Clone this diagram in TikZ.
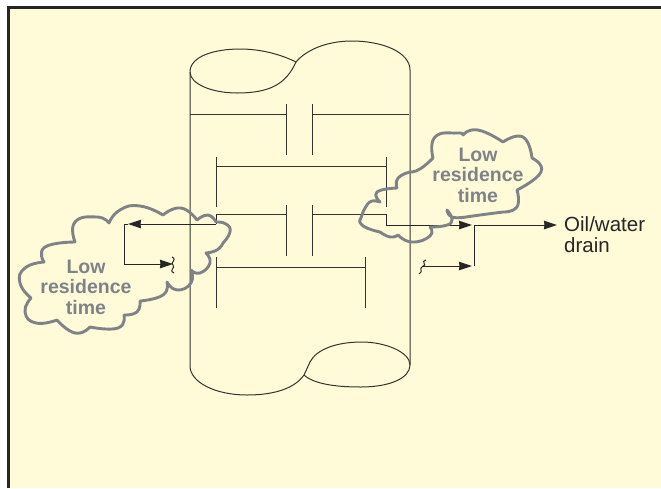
\documentclass[tikz,border=0pt]{standalone}
\usepackage{fontspec}
\setmainfont{Liberation Sans}
\usetikzlibrary{arrows.meta,positioning}
\definecolor{paper}{HTML}{FFFAD8}
\definecolor{cloudgrey}{HTML}{7F8388}
\definecolor{inkline}{HTML}{35352F}

\begin{document}
\begin{tikzpicture}[x=1pt,y=-1pt,
  vessel/.style={draw=inkline,line width=1pt},
  tray/.style={draw=inkline,line width=1pt},
  flow/.style={draw=black!85,line width=1pt},
  head/.style={-{Stealth[length=13pt,width=8.5pt,inset=0.5pt]}},
  puff/.style={draw=cloudgrey,line width=2.9pt,line cap=round,line join=round},
  lobe/.style={smooth,tension=0.9},
  lbl/.style={font=\fontsize{19.5}{20.5}\selectfont\bfseries,text=cloudgrey,align=center,inner sep=0pt},
  outlet/.style={font=\fontsize{20.5}{21}\selectfont,text=black!85,align=left,inner sep=0pt}]

\useasboundingbox (0,0) rectangle (661,488);
\fill[paper] (8,7) rectangle (661,488);
\draw[black!85,line width=3pt] (8,488) -- (8,7) -- (661,7);

% shell
\draw[vessel] (190,366) -- (190,72) .. controls (190,56) and (215,49) .. (240,49)
  .. controls (260,49) and (280,54) .. (296,62)
  .. controls (308,48) and (330,41) .. (352,41)
  .. controls (382,41) and (410,52) .. (410,70) -- (410,365);
\draw[vessel] (190,72) .. controls (190,84) and (212,93) .. (237,93)
  .. controls (270,93) and (286,84) .. (296,62);
\draw[vessel] (190,366) .. controls (190,382) and (215,395) .. (247,395)
  .. controls (275,395) and (295,388) .. (304,375)
  .. controls (315,385) and (340,387) .. (361,387)
  .. controls (390,387) and (410,378) .. (410,365)
  .. controls (410,352) and (385,342) .. (362,342)
  .. controls (335,342) and (316,350) .. (310,362) -- (304,375);

% trays
\draw[tray] (190,114) -- (286,114) (286,104) -- (286,155);
\draw[tray] (312,104) -- (312,155) (312,114) -- (409,114);
\draw[tray] (216,157) -- (216,207) (216,166) -- (386,166) (386,157) -- (386,207);
\draw[tray] (216,214) -- (286,214) (286,205) -- (286,256);
\draw[tray] (312,205) -- (312,256) (312,214) -- (386,214);
\draw[tray] (216,257) -- (216,308) (216,267) -- (365,267) (365,257) -- (365,308);

% left draw-off
\coordinate (lefttray) at (216,214);
\coordinate (leftout) at (216,224);
\coordinate (leftturn) at (124,224);
\coordinate (leftcorner) at (124,264);
\coordinate (leftend) at (173,264);
\draw[flow] (lefttray) -- (leftout);
\draw[flow,head] (leftout) -- (128,224);
\draw[flow] (128,224) -- (leftturn) -- (leftcorner);
\draw[flow,head] (leftcorner) -- (leftend);
\draw[flow] (172,257) .. controls (178,260) and (169,263) .. (173,265)
  .. controls (176,268) and (168,270) .. (174,273);

% right draw-off
\coordinate (righttray) at (386,214);
\coordinate (rightout) at (386,225);
\coordinate (rightjoin) at (474,225);
\coordinate (rightlow) at (474,266);
\coordinate (rightend) at (423,266);
\node[outlet,anchor=west] (drain) at (564,235) {Oil/water\\drain};
\coordinate (drainin) at (557,225);
\draw[flow] (righttray) -- (rightout);
\draw[flow,head] (rightout) -- (472,225);
\draw[flow,head] (rightjoin) -- (drainin);
\draw[flow] (rightjoin) -- (rightlow);
\draw[flow,head] (rightend) -- (472,266);
\draw[flow] (426,260) .. controls (420,262) and (428,265) .. (423,266)
  .. controls (418,269) and (424,271) .. (419,274);

% clouds
\draw[puff] plot[lobe] coordinates {(109,223) (120,210) (140,206) (163,215)}
  plot[lobe] coordinates {(163,215) (181,208) (197,220)}
  plot[lobe] coordinates {(197,220) (208,215) (216,222)}
  plot[lobe] coordinates {(216,222) (226,224) (230,232) (223,243)}
  plot[lobe] coordinates {(223,243) (217,250) (206,253)}
  plot[lobe] coordinates {(206,253) (210,263) (200,273) (191,270)}
  plot[lobe] coordinates {(191,270) (191,283) (177,290) (167,282)}
  plot[lobe] coordinates {(167,282) (163,295) (140,301)}
  plot[lobe] coordinates {(140,301) (137,312) (124,315)}
  plot[lobe] coordinates {(124,315) (118,328) (90,327)}
  plot[lobe] coordinates {(90,327) (75,333) (57,320)}
  plot[lobe] coordinates {(57,320) (36,323) (25,312) (31,298)}
  plot[lobe] coordinates {(31,298) (20,283) (25,268) (44,262)}
  plot[lobe] coordinates {(44,262) (45,247) (75,242)}
  plot[lobe] coordinates {(75,242) (75,222) (97,217) (109,223)};
\draw[puff] plot[lobe] coordinates {(433,158) (435,137) (457,133) (463,135)}
  plot[lobe] coordinates {(463,135) (478,130) (503,142)}
  plot[lobe] coordinates {(503,142) (523,137) (532,158)}
  plot[lobe] coordinates {(532,158) (541,172) (517,190)}
  plot[lobe] coordinates {(517,190) (517,207) (503,212)}
  plot[lobe] coordinates {(503,212) (480,215) (466,217)}
  plot[lobe] coordinates {(466,217) (452,217) (447,210)}
  plot[lobe] coordinates {(447,210) (451,223) (430,227)}
  plot[lobe] coordinates {(430,227) (430,236) (412,242) (398,235)}
  plot[lobe] coordinates {(398,235) (390,237) (380,232)}
  plot[lobe] coordinates {(380,232) (362,225) (362,215) (367,205)}
  plot[lobe] coordinates {(367,205) (372,201) (380,202)}
  plot[lobe] coordinates {(380,202) (377,192) (397,188)}
  plot[lobe] coordinates {(397,188) (398,178) (410,172)}
  plot[lobe] coordinates {(410,172) (420,169) (433,158)};

\node[lbl] (leftpuff) at (86,287) {Low\\residence\\time};
\node[lbl] (rightpuff) at (478,175) {Low\\residence\\time};
\end{tikzpicture}
\end{document}
